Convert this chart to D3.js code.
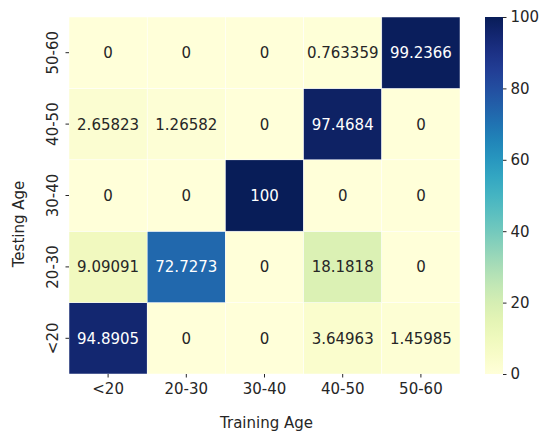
<!DOCTYPE html>
<html>
<head>
<meta charset="utf-8">
<script src="https://cdn.jsdelivr.net/npm/d3@7"></script>
<style>
  body { margin: 0; background: #fff; }
  text { font-family: "DejaVu Sans", sans-serif; fill: #262626; }
</style>
</head>
<body>
<script>
// training age along x, testing age along y (bottom to top)
var trainAges = ['<20', '20-30', '30-40', '40-50', '50-60'];
var testAges = ['<20', '20-30', '30-40', '40-50', '50-60'];
var rowsLt20 = [94.8905, 0, 0, 3.64963, 1.45985];
var rows2030 = [9.09091, 72.7273, 0, 18.1818, 0];
var rows3040 = [0, 0, 100, 0, 0];
var rows4050 = [2.65823, 1.26582, 0, 97.4684, 0];
var rows5060 = [0, 0, 0, 0.763359, 99.2366];
var cbTicks = [0, 20, 40, 60, 80, 100];

var matrix = [rowsLt20, rows2030, rows3040, rows4050, rows5060];

var W = 551, H = 433;
// note: "top" is taken by window.top, so use plot* names
var plotLeft = 69, plotRight = 460, plotTop = 17, plotBottom = 374;

var svg = d3.select('body').append('svg')
    .attr('width', W)
    .attr('height', H);

var x = d3.scaleBand().domain(trainAges).range([plotLeft, plotRight]);
var y = d3.scaleBand().domain(testAges).range([plotBottom, plotTop]);
var color = d3.scaleSequential(d3.interpolateYlGnBu).domain([0, 100]);

var cells = [];
matrix.forEach(function (row, i) {
  row.forEach(function (v, j) {
    cells.push({ test: testAges[i], train: trainAges[j], value: v });
  });
});

svg.append('g').selectAll('rect')
    .data(cells)
  .enter().append('rect')
    .attr('x', function (d) { return x(d.train); })
    .attr('y', function (d) { return y(d.test); })
    .attr('width', x.bandwidth())
    .attr('height', y.bandwidth())
    .attr('fill', function (d) { return color(d.value); })
    .attr('stroke', '#fff')
    .attr('stroke-width', 0.5);

function lum(c) {
  var rgb = d3.rgb(c);
  var f = function (v) { v /= 255; return v <= 0.03928 ? v / 12.92 : Math.pow((v + 0.055) / 1.055, 2.4); };
  return 0.2126 * f(rgb.r) + 0.7152 * f(rgb.g) + 0.0722 * f(rgb.b);
}

svg.append('g').selectAll('text')
    .data(cells)
  .enter().append('text')
    .attr('x', function (d) { return x(d.train) + x.bandwidth() / 2; })
    .attr('y', function (d) { return y(d.test) + y.bandwidth() / 2; })
    .attr('text-anchor', 'middle')
    .attr('dy', '0.36em')
    .style('font-size', '15px')
    .style('fill', function (d) { return lum(color(d.value)) > 0.408 ? '#262626' : '#ffffff'; })
    .text(function (d) { return String(d.value); });

// axes
var xAxis = svg.append('g')
    .attr('transform', 'translate(0,' + plotBottom + ')')
    .call(d3.axisBottom(x).tickSize(3.5).tickPadding(6));
xAxis.select('.domain').remove();
xAxis.selectAll('text').style('font-size', '15px').style('font-family', '"DejaVu Sans", sans-serif').attr('fill', '#262626');
xAxis.selectAll('line').attr('stroke', '#262626');

var yAxis = svg.append('g')
    .attr('transform', 'translate(' + plotLeft + ',0)')
    .call(d3.axisLeft(y).tickSize(3.5).tickPadding(6));
yAxis.select('.domain').remove();
yAxis.selectAll('line').attr('stroke', '#262626');
yAxis.selectAll('text')
    .style('font-size', '15px')
    .style('font-family', '"DejaVu Sans", sans-serif')
    .attr('fill', '#262626')
    .attr('x', 0).attr('dy', 0)
    .attr('transform', 'translate(-11,0) rotate(-90)')
    .attr('text-anchor', 'middle');

svg.append('text')
    .attr('x', (plotLeft + plotRight) / 2 + 2)
    .attr('y', 428)
    .attr('text-anchor', 'middle')
    .style('font-size', '15px')
    .text('Training Age');

svg.append('text')
    .attr('transform', 'translate(24,224) rotate(-90)')
    .attr('text-anchor', 'middle')
    .style('font-size', '15px')
    .text('Testing Age');

// colorbar
var cbX = 485, cbW = 18;
var cbScale = d3.scaleLinear().domain([0, 100]).range([plotBottom, plotTop]);
var grad = svg.append('defs').append('linearGradient')
    .attr('id', 'cbgrad')
    .attr('x1', 0).attr('y1', 1).attr('x2', 0).attr('y2', 0);
d3.range(0, 101, 5).forEach(function (t) {
  grad.append('stop').attr('offset', t + '%').attr('stop-color', color(t));
});
svg.append('rect')
    .attr('x', cbX).attr('y', plotTop)
    .attr('width', cbW).attr('height', plotBottom - plotTop)
    .attr('fill', 'url(#cbgrad)');

var cbAxis = svg.append('g')
    .attr('transform', 'translate(' + (cbX + cbW) + ',0)')
    .call(d3.axisRight(cbScale).tickValues(cbTicks).tickSize(3.5).tickPadding(4));
cbAxis.select('.domain').remove();
cbAxis.selectAll('line').attr('stroke', '#262626');
cbAxis.selectAll('text').style('font-size', '15px').style('font-family', '"DejaVu Sans", sans-serif').attr('fill', '#262626');
</script>
</body>
</html>
